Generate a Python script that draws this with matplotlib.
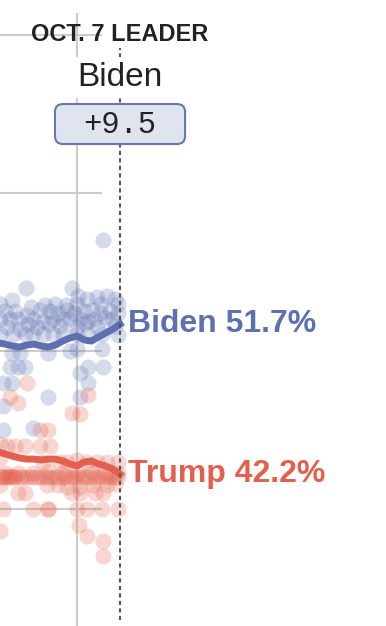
import matplotlib
matplotlib.use("Agg")
import matplotlib.pyplot as plt
from matplotlib.patches import FancyBboxPatch

# ---- data (x = days relative to Oct. 7, y = percent) ----
line_days = [-17, -16, -15, -14, -13, -12, -11, -10, -9, -8, -7, -6, -5, -4, -3, -2, -1, 0]
biden_avg = [50.51, 50.44, 50.32, 50.25, 50.38, 50.44, 50.32, 50.25, 50.38, 50.63,
             50.82, 50.95, 50.70, 50.63, 50.89, 51.14, 51.39, 51.70]
trump_avg = [43.61, 43.48, 43.35, 43.23, 43.16, 43.16, 43.10, 43.16, 43.16, 43.04,
             42.85, 42.72, 42.97, 43.04, 42.85, 42.72, 42.53, 42.20]

biden_poll_days = [-2.4, -13.1, -6.7,
                   -16.7, -15.1, -9.1, -5.9, -4.6, -3.2, -1.8, -0.7, -0.3, -6.0, -12.4, -10.4, -7.6, -2.6,
                   -16.0, -14.6, -13.0, -11.2, -9.8, -8.6, -7.4, -6.4, -5.0, -3.9, -2.8, -1.4, -0.3,
                   -16.7, -15.3, -14.2, -12.1, -10.7, -9.3, -7.9, -7.0, -5.6, -4.5, -3.5, -2.1, -1.1,
                   -15.8, -13.9, -11.6, -8.4, -6.0, -3.2, -0.7, -12.8, -9.9, -4.9,
                   -16.7, -14.9, -13.2, -12.1, -10.7, -9.3, -7.9, -6.0, -4.5, -2.5, -0.3,
                   -15.1, -14.0, -10.0, -7.0, -6.0, -2.5,
                   -15.3, -14.2, -13.3, -4.5, -2.4,
                   -5.6,
                   -16.3, -15.1, -4.5,
                   -10.0, -5.6,
                   -16.3,
                   -16.3, -12.1]
biden_poll_vals = [57.0, 54.0, 54.0,
                   53.0, 53.2, 53.0, 53.5, 53.3, 53.4, 53.5, 53.3, 53.0, 53.0, 52.8, 52.9, 52.9, 53.0,
                   52.5, 52.5, 52.3, 52.6, 52.5, 52.4, 52.6, 52.4, 52.5, 52.6, 52.4, 52.5, 52.4,
                   52.0, 52.0, 52.0, 52.0, 51.9, 52.0, 52.0, 52.0, 52.0, 51.9, 52.0, 52.1, 52.0,
                   51.5, 51.4, 51.5, 51.6, 51.5, 51.5, 51.6, 51.7, 51.7, 51.8,
                   51.1, 51.1, 51.1, 51.1, 51.1, 51.1, 51.1, 51.1, 51.1, 51.1, 51.0,
                   49.9, 49.9, 49.9, 50.0, 50.1, 50.1,
                   49.0, 49.0, 49.0, 49.0, 49.0,
                   48.6,
                   48.0, 48.0, 48.0,
                   47.1, 47.1,
                   46.5,
                   45.0, 45.1]

trump_poll_days = [-13.0, -15.3, -14.2, -4.5, -6.7, -5.6, -11.2, -10.0,
                   -16.7, -15.8, -14.6, -13.2, -11.2, -9.8,
                   -16.7, -10.7, -8.4, -7.4, -6.0, -4.6, -3.2, -1.8, -0.3,
                   -16.0, -14.2, -12.1, -10.0, -7.9, -6.0, -4.0, -2.1, -0.3,
                   -16.7, -16.2, -15.6, -15.1, -14.6, -14.0, -13.5, -13.0, -12.4, -11.9,
                   -11.3, -10.8, -10.2, -9.7, -9.1, -8.6, -8.0, -7.5, -6.9, -6.4,
                   -5.8, -5.3, -4.7, -4.2, -3.6, -3.1, -2.5, -2.0, -1.4, -0.9, -0.3,
                   -16.5, -15.9, -15.3, -14.8,
                   -16.7, -10.2, -8.6, -7.4, -5.6, -3.7, -1.8, -0.7,
                   -14.2, -13.2, -6.7, -5.6, -3.5, -2.4,
                   -16.3, -12.1, -10.0, -10.0, -6.0, -4.6, -2.5, -0.3,
                   -5.7, -16.7, -4.6, -2.4, -2.4]
trump_poll_vals = [48.0, 47.1, 46.7, 47.2, 46.1, 46.0, 45.0, 45.0,
                   44.1, 44.0, 44.0, 44.0, 44.0, 44.0,
                   43.2, 43.0, 43.0, 43.0, 43.1, 43.0, 43.0, 43.0, 43.0,
                   42.3, 42.3, 42.3, 42.4, 42.3, 42.3, 42.4, 42.3, 42.3,
                   42.0, 42.0, 42.0, 42.0, 42.0, 42.0, 42.0, 42.0, 42.0, 42.0,
                   42.0, 42.0, 42.0, 42.0, 42.0, 42.0, 42.0, 42.0, 42.0, 42.0,
                   42.0, 42.0, 42.0, 42.0, 42.0, 42.0, 42.0, 42.0, 42.0, 42.0, 42.0,
                   42.1, 42.0, 42.1, 42.0,
                   41.5, 41.5, 41.5, 41.4, 41.4, 41.5, 41.5, 41.6,
                   41.0, 41.0, 41.0, 41.0, 41.0, 41.0,
                   40.0, 40.0, 40.0, 40.0, 40.0, 40.0, 40.0, 40.0,
                   39.0, 38.6, 38.3, 38.0, 37.0]

grid_values = [70, 60, 50, 40]
vgrid_day = -6
leader_name = "Biden"
leader_margin = "+9.5"
header = "OCT. 7 LEADER"
biden_label = "Biden 51.7%"
trump_label = "Trump 42.2%"

BLUE = "#5d70b0"
RED = "#e4604e"

fig = plt.figure(figsize=(3.86, 6.26), dpi=100)
ax = fig.add_axes([0, 0, 1, 1])
ax.set_axis_off()
ax.set_xlim(-16.74, 37.1)
ax.set_ylim(32.595, 72.215)

# gridlines
for g in grid_values:
    ax.plot([-30, -2.5], [g, g], color="#cccccc", lw=1.5, zorder=1, solid_capstyle="butt")
ax.plot([vgrid_day, vgrid_day], [30, 71.3], color="#cccccc", lw=1.5, zorder=1)

# poll dots
ax.scatter(biden_poll_days, biden_poll_vals, s=135, color=BLUE, alpha=0.25, lw=0, zorder=2)
ax.scatter(trump_poll_days, trump_poll_vals, s=135, color=RED, alpha=0.25, lw=0, zorder=2)

# averages
ax.plot(line_days, biden_avg, color=BLUE, lw=5, zorder=3, solid_joinstyle="round")
ax.plot(line_days, trump_avg, color=RED, lw=5, zorder=3, solid_joinstyle="round")

# Oct 7 dotted line
ax.plot([0, 0], [33.0, 69.2], color="#555555", lw=1.5, ls=(0, (2, 1.6)), zorder=4)

# header texts
ax.text(0, 70.0, header, ha="center", va="center", fontsize=17, fontweight="bold",
        color="#222222", family=["Liberation Sans", "DejaVu Sans"], zorder=6)
ax.text(0, 67.34, leader_name, ha="center", va="center", fontsize=24,
        color="#222222", family=["Liberation Sans", "DejaVu Sans"], zorder=6,
        bbox=dict(boxstyle="square,pad=0.15", fc="white", ec="none"))

# margin box
px_x = 7.17
px_y = 15.8
box = FancyBboxPatch((-9.07, 63.10), 18.14, 2.53,
                     boxstyle="round,pad=0,rounding_size=1.1",
                     mutation_aspect=px_x / px_y,
                     fc="#e0e4ef", ec="#6677b3", lw=1.5, zorder=5)
ax.add_patch(box)
ax.text(0, 64.30, leader_margin, ha="center", va="center", fontsize=22,
        color="#222222", family=["Liberation Mono", "DejaVu Sans Mono"], zorder=6)

# end labels
ax.text(1.1, 51.2, biden_label, ha="left", va="baseline", fontsize=23, fontweight="bold",
        color=BLUE, family=["Liberation Sans", "DejaVu Sans"], zorder=6)
ax.text(1.1, 41.7, trump_label, ha="left", va="baseline", fontsize=23, fontweight="bold",
        color=RED, family=["Liberation Sans", "DejaVu Sans"], zorder=6)

fig.savefig("out.png", dpi=100)
